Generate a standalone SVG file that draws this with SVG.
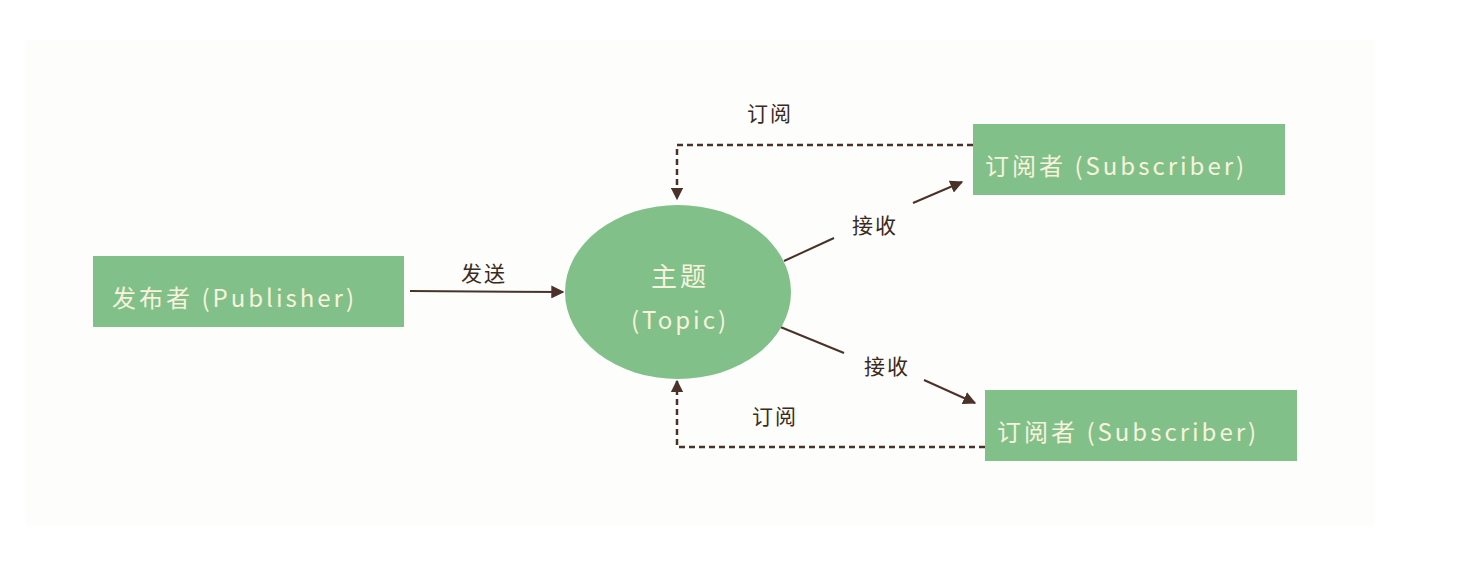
<svg xmlns="http://www.w3.org/2000/svg" width="1480" height="562" viewBox="0 0 1480 562">
<defs>
<marker id="ah" viewBox="0 0 10 10" refX="9" refY="5" markerWidth="6.5" markerHeight="6.5" orient="auto" markerUnits="strokeWidth">
<path d="M0,0 L10,5 L0,10 z" fill="#4a3228"/>
</marker>
<marker id="ahd" viewBox="0 0 10 10" refX="9" refY="5" markerWidth="5" markerHeight="5" orient="auto" markerUnits="strokeWidth">
<path d="M0,0 L10,5 L0,10 z" fill="#4a3228"/>
</marker>
</defs>
<style>
.box{fill:#82c08a}
.nt{font-family:"Noto Sans CJK SC","Noto Sans",sans-serif;font-size:24px;fill:#f7f3dc;letter-spacing:3px}
.lb{font-family:"Noto Sans CJK SC",sans-serif;font-size:21px;fill:#3a2a20;letter-spacing:2px}
.ln{stroke:#4a3228;stroke-width:2;fill:none}
.dl{stroke:#4a3228;stroke-width:2.5;fill:none;stroke-dasharray:6 4}
</style>
<rect width="1480" height="562" fill="#ffffff"/>
<rect x="25" y="40" width="1350" height="485" fill="#fdfdfc"/>
<g id="connectors">
<line class="ln" x1="410" y1="291" x2="563" y2="292" marker-end="url(#ah)"/>
<polyline class="dl" points="973,145 677,145 677,199" marker-end="url(#ahd)"/>
<polyline class="dl" points="985,447 677,447 677,381" marker-end="url(#ahd)"/>
<line class="ln" x1="784" y1="261" x2="834" y2="238"/>
<line class="ln" x1="913" y1="203" x2="962" y2="182" marker-end="url(#ah)"/>
<line class="ln" x1="778" y1="326" x2="844" y2="353"/>
<line class="ln" x1="924" y1="380" x2="975" y2="403" marker-end="url(#ah)"/>
<text class="lb" x="484" y="281" text-anchor="middle">发送</text>
<text class="lb" x="770" y="121" text-anchor="middle">订阅</text>
<text class="lb" x="775" y="424" text-anchor="middle">订阅</text>
<text class="lb" x="875" y="233" text-anchor="middle">接收</text>
<text class="lb" x="887" y="374" text-anchor="middle">接收</text>
</g>
<g id="publisher">
<rect class="box" x="93" y="256" width="311" height="71"/>
<text class="nt" x="112" y="307">发布者 (Publisher)</text>
</g>
<g id="topic">
<ellipse cx="678" cy="292" rx="113" ry="87" fill="#82c08a"/>
<text class="nt" x="680" y="286" text-anchor="middle" style="font-size:26px">主题</text>
<text class="nt" x="680" y="329" text-anchor="middle">(Topic)</text>
</g>
<g id="subscriber1">
<rect class="box" x="973" y="124" width="312" height="71"/>
<text class="nt" x="985" y="175">订阅者 (Subscriber)</text>
</g>
<g id="subscriber2">
<rect class="box" x="985" y="390" width="312" height="71"/>
<text class="nt" x="997" y="441">订阅者 (Subscriber)</text>
</g>
</svg>
